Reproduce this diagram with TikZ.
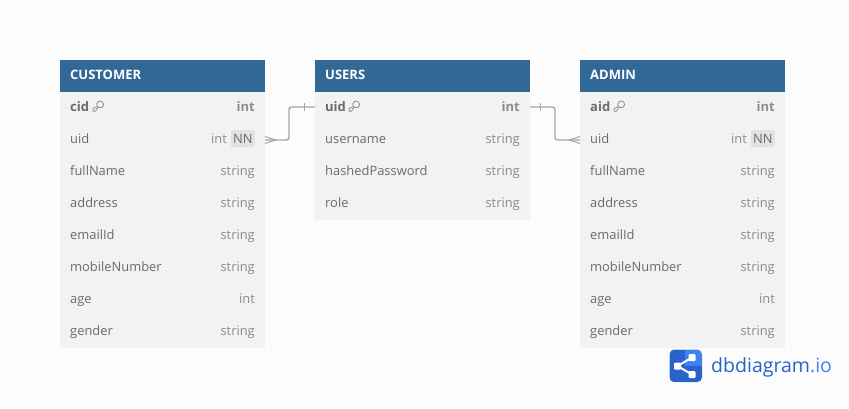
\documentclass[tikz,border=0pt]{standalone}
\usepackage{fontspec}
\setmainfont{Open Sans}
\usetikzlibrary{calc}
\definecolor{bgc}{HTML}{FCFCFC}
\definecolor{headc}{HTML}{316896}
\definecolor{rowc}{HTML}{F2F2F2}
\definecolor{namec}{HTML}{6B6B6B}
\definecolor{typec}{HTML}{8C8C8C}
\definecolor{nnc}{HTML}{E2E2E2}
\definecolor{linec}{HTML}{A2A5AC}
\definecolor{logoa}{HTML}{2A62CC}
\definecolor{logob}{HTML}{3F82EE}
\tikzset{
  headbox/.style={fill=headc,minimum height=32pt,inner sep=0pt,outer sep=0pt,anchor=north west},
  rowbox/.style={fill=rowc,inner sep=0pt,outer sep=0pt,anchor=north west},
  headtext/.style={text=white,font=\fontsize{13}{13}\selectfont\bfseries,anchor=base west,inner sep=0pt},
  nametext/.style={text=namec,font=\fontsize{12.9}{13}\selectfont,anchor=base west,inner sep=0pt},
  pktext/.style={text=namec,font=\fontsize{13}{13}\selectfont\bfseries,anchor=base west,inner sep=0pt},
  typetext/.style={text=typec,font=\fontsize{12.9}{13}\selectfont,anchor=base east,inner sep=0pt},
  pktype/.style={text=typec,font=\fontsize{13}{13}\selectfont\bfseries,anchor=base east,inner sep=0pt},
  nnbox/.style={fill=nnc,text=namec,rounded corners=2pt,font=\fontsize{12.9}{13}\selectfont,minimum width=24pt,minimum height=17pt,inner sep=0pt,anchor=east},
  rel/.style={draw=linec,line width=1.4pt,rounded corners=2.5pt},
  relmark/.style={draw=linec,line width=1pt},
  keyicon/.style={draw=typec,line width=.8pt,line join=round},
}
% #1 x, #2 y centre of the key icon: outlined bow and shank
\newcommand{\keyglyph}[2]{%
  \draw[keyicon] (#1-0.6,#2-0.2) arc[start angle=215,end angle=-125,radius=3.4pt]
    -- ++(-0.2,0) -- (#1-2.4,#2+4.6) -- (#1-5,#2+4.6) -- (#1-5,#2+2.2) -- cycle;
}
% #1 prefix, #2 x, #3 width, #4 title, #5 rows: name/type
\def\nnmark{intnn}
\newcommand{\dbtable}[5]{%
  \node[headbox,minimum width=#3pt] (#1head) at (#2,60) {};
  \node[headtext] (#1title) at (#2+10,79) {#4};
  \foreach \nm/\ty [count=\i] in {#5} {
    \pgfmathsetmacro{\yy}{92+32*(\i-1)}
    \node[rowbox,minimum width=#3pt,minimum height=32pt] (#1row\i) at (#2,\yy) {};
  }
  \foreach \nm/\ty [count=\i] in {#5} {
    \pgfmathsetmacro{\yy}{92+32*(\i-1)+19}
    \ifnum\i=1
      \node[pktext] (#1name\i) at (#2+10,\yy) {\nm};
      \node[pktype] (#1type\i) at (#2+#3-10,\yy) {\ty};
    \else
      \node[nametext] (#1name\i) at (#2+10,\yy) {\nm};
      \ifx\ty\nnmark
        \node[nnbox] (#1nn) at (#2+#3-10,\yy-4.5) {NN};
        \node[typetext] (#1type\i) at (#2+#3-38,\yy) {int};
      \else
        \node[typetext] (#1type\i) at (#2+#3-10,\yy) {\ty};
      \fi
    \fi
  }
}
\begin{document}
\begin{tikzpicture}[x=1pt,y=-1pt]
\useasboundingbox[fill=bgc] (0,0) rectangle (849,408);
\dbtable{c}{60}{205}{CUSTOMER}{cid/int,uid/intnn,fullName/string,address/string,emailId/string,mobileNumber/string,age/int,gender/string}
\dbtable{u}{315}{215}{USERS}{uid/int,username/string,hashedPassword/string,role/string}
\dbtable{a}{580}{205}{ADMIN}{aid/int,uid/intnn,fullName/string,address/string,emailId/string,mobileNumber/string,age/int,gender/string}
\keyglyph{98}{106.5}
\keyglyph{354}{106.5}
\keyglyph{619}{106.5}
% connectors
\coordinate (cuR) at (crow2.east);
\coordinate (uuL) at ($(urow1.west)+(0,-1)$);
\coordinate (uuR) at ($(urow1.east)+(0,-1)$);
\coordinate (auL) at (arow2.west);
\draw[rel] (cuR) -| (289,107) -- (uuL);
\draw[rel] (uuR) -| (555,140) -- (auL);
% crow's feet and bars
\draw[relmark] (276,140) -- (265,136.5) (276,140) -- (265,143.5);
\draw[relmark] (304,103) -- (304,111);
\draw[relmark] (540,103) -- (540,111);
\draw[relmark] (569,140) -- (580,136.5) (569,140) -- (580,143.5);
% logo
\fill[logob,rounded corners=5pt] (669.5,349.5) rectangle (702,382);
\begin{scope}
  \clip[rounded corners=5pt] (669.5,349.5) rectangle (702,382);
  \fill[logoa] (669.5,349.5) rectangle (685,382);
  \fill[logoa] (669.5,366) rectangle (702,382);
\end{scope}
\node[fill=white,minimum size=7pt,inner sep=0pt,rounded corners=1pt] (lgl) at (677.5,366) {};
\node[fill=white,minimum size=7pt,inner sep=0pt,rounded corners=1pt] (lgt) at (692,357.5) {};
\node[fill=white,minimum size=7pt,inner sep=0pt,rounded corners=1pt] (lgb) at (692,374.5) {};
\draw[white,line width=2pt] (lgl.center) -- (lgt.center) (lgl.center) -- (lgb.center);
\node[anchor=base west,inner sep=0pt,font=\fontsize{19.5}{20}\selectfont,text=logoa] (lgtext) at (711,372) {dbdiagram\textcolor{logob}{.io}};
\end{tikzpicture}
\end{document}
